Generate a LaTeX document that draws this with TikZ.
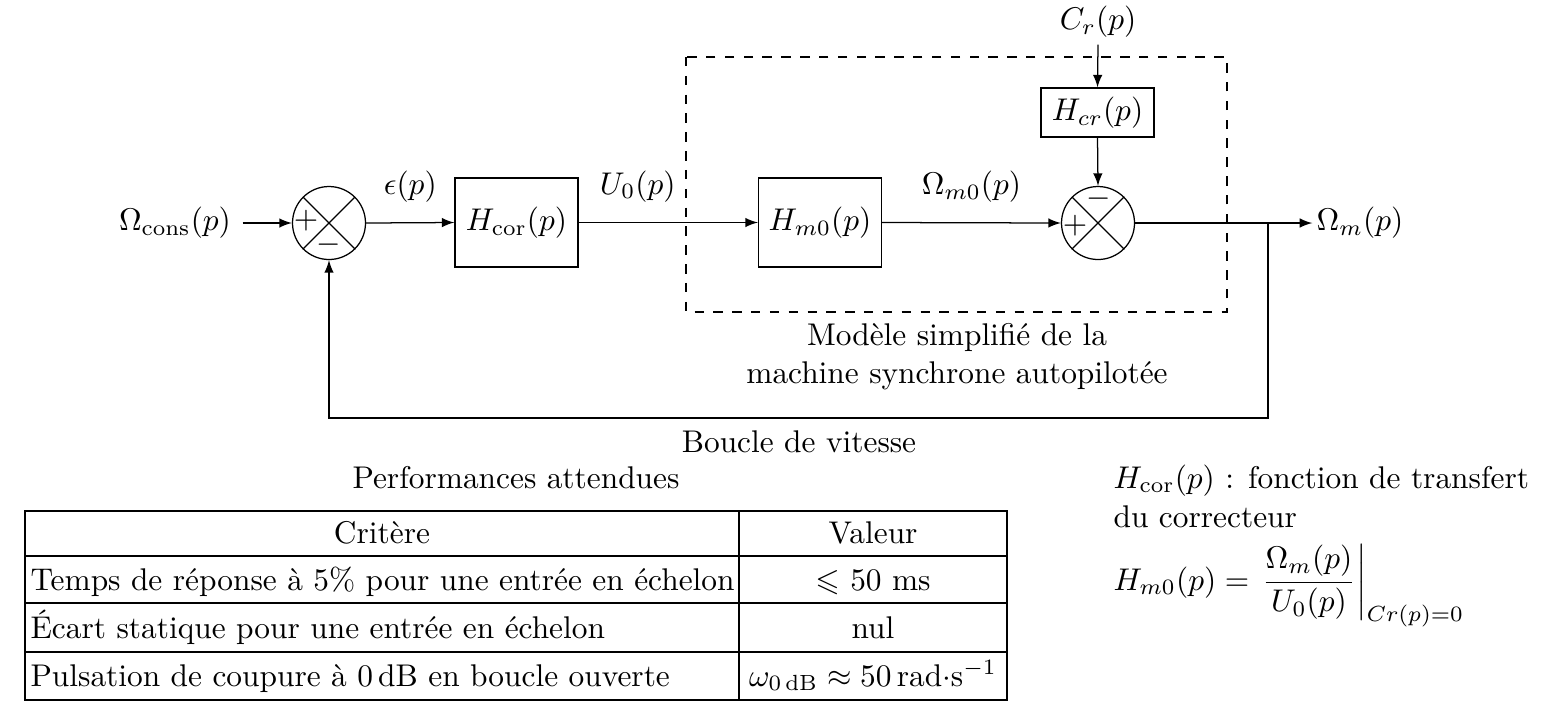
\documentclass[tikz,border=0pt]{standalone}
\usepackage{amsmath,amssymb}
\usepackage{fontspec}
\usetikzlibrary{arrows,calc}
\newdimen\pxu \pxu=0.3187pt
\begin{document}
\begin{tikzpicture}[x=0.3187pt,y=-0.3187pt, line width=0.4pt, >=latex,
 blk/.style={draw, minimum width=123\pxu, minimum height=89\pxu, inner sep=0pt},
 sumc/.style={draw, circle, minimum size=73\pxu, inner sep=0pt},
 sgn/.style={inner sep=0pt},
 lbl/.style={inner sep=0pt},
 txt/.style={inner sep=0pt}]
\useasboundingbox (0,0) rectangle (1550,707);

% blocks
\node[lbl, inner sep=3.5pt] (in) at (175,223) {$\Omega_{\text{cons}}(p)$};
\node[sumc] (s1) at (329,223) {};
\node[blk] (hcor) at (516.5,222.5) {$H_{\text{cor}}(p)$};
\node[blk] (hm0) at (820,222.5) {$H_{m0}(p)$};
\node[sumc] (s2) at (1098,223) {};
\node[blk, minimum width=113\pxu, minimum height=49\pxu] (hcr) at (1097.5,112.5) {$H_{cr}(p)$};
\node[lbl, inner sep=2pt] (cr) at (1098,22) {$C_r(p)$};
\node[lbl, inner sep=1.2pt] (out) at (1360,223) {$\Omega_m(p)$};

% crosses in summing junctions
\draw (s1.north west) -- (s1.south east);
\draw (s1.north east) -- (s1.south west);
\draw (s2.north west) -- (s2.south east);
\draw (s2.north east) -- (s2.south west);
\node[sgn] (s1p) at ($(s1)+(-23,-2)$) {$+$};
\node[sgn] (s1m) at ($(s1)+(0,22)$) {$-$};
\node[sgn] (s2m) at ($(s2)+(1,-24)$) {$-$};
\node[sgn] (s2p) at ($(s2)+(-23,3)$) {$+$};

% connectors
\draw[->] (in.east) -- (s1.west);
\draw[->] (s1.east) -- (hcor.west) node[midway, above=3pt] {$\epsilon(p)$};
\draw[->] (hcor.east) -- (hm0.west) node[pos=0.33, above=3pt] {$U_0(p)$};
\draw[->] (hm0.east) -- (s2.west) node[midway, above=3pt] {$\Omega_{m0}(p)$};
\draw[->] (cr.south) -- (hcr.north);
\draw[->] (hcr.south) -- (s2.north);
\coordinate (br) at (1268,223);
\coordinate (fbl) at (329,418);
\draw (s2.east) -- (br);
\draw[->] (br) -- (out.west);
\draw[->] (br) |- (fbl) -- (s1.south);

% dashed frame
\draw[dashed] (686,57) rectangle (1227,312);
\node[txt] (m1) at (957,337) {Modèle simplifié de la};
\node[txt] (m2) at (957,376) {machine synchrone autopilotée};
\node[txt] (bv) at (799,442) {Boucle de vitesse};

% table
\node[txt] (pa) at (516,478) {Performances attendues};
\draw (25,511) rectangle (1007,700);
\draw (25,556) -- (1007,556);
\draw (25,603) -- (1007,603);
\draw (25,652) -- (1007,652);
\draw (739,511) -- (739,700);
\node[txt, anchor=base] (h1) at (382,543) {Critère};
\node[txt, anchor=base] (h2) at (873,543) {Valeur};
\node[txt, anchor=base west] (r1a) at (30,590) {Temps de réponse à 5\% pour une entrée en échelon};
\node[txt, anchor=base] (r1b) at (873,590) {$\leqslant$ 50 ms};
\node[txt, anchor=base west] (r2a) at (30,638) {Écart statique pour une entrée en échelon};
\node[txt, anchor=base] (r2b) at (873,638) {nul};
\node[txt, anchor=base west] (r3a) at (30,686) {Pulsation de coupure à 0\,dB en boucle ouverte};
\node[txt, anchor=base] (r3b) at (873,686) {$\omega_{0\,\text{dB}}\approx 50\,\text{rad}{\cdot}\text{s}^{-1}$};

% right notes
\node[txt, anchor=base west] (n1) at (1113,488) {$H_{\text{cor}}(p)$ : fonction de transfert};
\node[txt, anchor=base west] (n2) at (1113,527) {du correcteur};
\node[txt, anchor=base west] (n3) at (1113,590) {$H_{m0}(p) = \left.\dfrac{\Omega_m(p)}{U_0(p)}\right|_{Cr(p)=0}$};
\end{tikzpicture}
\end{document}
